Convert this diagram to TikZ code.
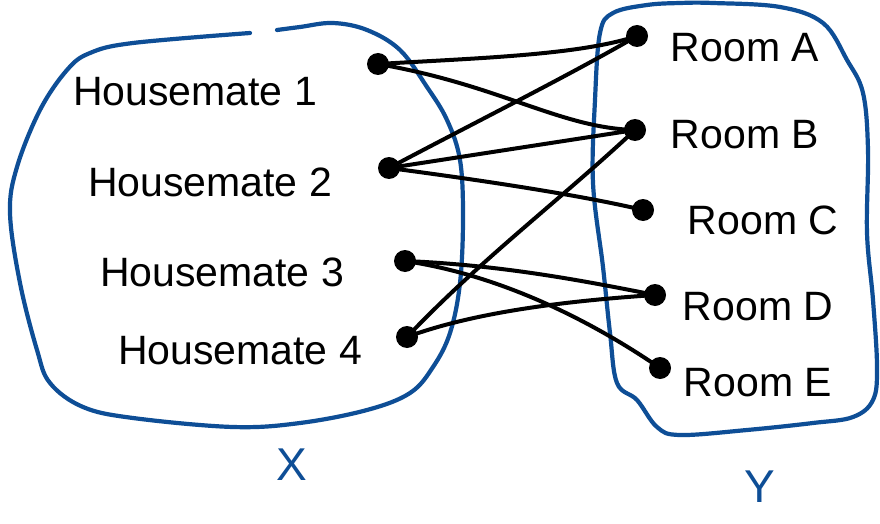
\documentclass[tikz,border=0pt]{standalone}
\usepackage{fontspec}
\setmainfont{Liberation Sans}
\definecolor{setblue}{RGB}{14,78,150}
\tikzset{
  setline/.style={draw=setblue, line width=4.2pt, line cap=round, line join=round},
  dotnode/.style={circle, fill=black, inner sep=0pt, minimum size=22pt},
  link/.style={draw=black, line width=4pt, line cap=round},
  lbl/.style={font=\fontsize{41}{43}\selectfont, inner sep=0pt},
  setname/.style={font=\fontsize{46}{48}\selectfont, text=setblue, inner sep=0pt}
}
\begin{document}
\begin{tikzpicture}[x=1pt, y=-1pt]
  \useasboundingbox (0,0) rectangle (880,524);
  \fill[white] (0,0) rectangle (880,524);

  % set X (open at the top, as drawn)
  \draw[setline] plot[smooth, tension=0.6] coordinates {
    (277,30) (300,27) (333,23) (367,30) (400,50) (427,87) (447,120)
    (460,160) (463,217) (460,283) (450,333) (433,367) (410,393)
    (367,410) (300,423) (233,427) (133,418) (83,407) (50,383)
    (37,350) (20,283) (10,213) (17,167) (40,110) (67,70) (90,53)
    (133,43) (250,33)};

  % set Y
  \draw[setline] plot[smooth cycle, tension=0.6] coordinates {
    (680,3) (713,3) (780,7) (823,23) (847,60) (863,93) (868,150)
    (867,233) (873,300) (877,367) (873,400) (853,417) (813,423)
    (747,430) (680,435) (657,427) (637,400) (617,383) (610,333)
    (603,267) (593,183) (595,100) (600,33) (613,13) (647,5)};

  % housemates
  \node[lbl, anchor=base] (t1) at (195,106) {Housemate 1};
  \node[lbl, anchor=base] (t2) at (210,196) {Housemate 2};
  \node[lbl, anchor=base] (t3) at (222,286) {Housemate 3};
  \node[lbl, anchor=base] (t4) at (240,364) {Housemate 4};

  % rooms
  \node[lbl, anchor=base] (ra) at (745,62) {Room A};
  \node[lbl, anchor=base] (rb) at (745,148) {Room B};
  \node[lbl, anchor=base] (rc) at (763,234) {Room C};
  \node[lbl, anchor=base] (rd) at (758,320) {Room D};
  \node[lbl, anchor=base] (re) at (758,396) {Room E};

  % set names
  \node[setname] (sx) at (292,465) {X};
  \node[setname] (sy) at (760,487) {Y};

  % points
  \node[dotnode] (h1) at (378,64) {};
  \node[dotnode] (h2) at (389,168) {};
  \node[dotnode] (h3) at (405,261) {};
  \node[dotnode] (h4) at (407,337) {};
  \node[dotnode] (a) at (637,36) {};
  \node[dotnode] (b) at (635,130) {};
  \node[dotnode] (c) at (643,210) {};
  \node[dotnode] (d) at (655,295) {};
  \node[dotnode] (e) at (660,368) {};

  % assignments
  \draw[link] (h1.center) .. controls (480,58) and (580,55) .. (a.center);
  \draw[link] (h1.center) .. controls (500,85) and (560,128) .. (b.center);
  \draw[link] (h2.center) .. controls (470,125) and (570,75) .. (a.center);
  \draw[link] (h2.center) -- (b.center);
  \draw[link] (h2.center) .. controls (480,180) and (580,195) .. (c.center);
  \draw[link] (h3.center) .. controls (500,265) and (580,280) .. (d.center);
  \draw[link] (h3.center) .. controls (500,275) and (590,320) .. (e.center);
  \draw[link] (h4.center) .. controls (480,260) and (560,200) .. (b.center);
  \draw[link] (h4.center) .. controls (480,310) and (580,300) .. (d.center);
\end{tikzpicture}
\end{document}
